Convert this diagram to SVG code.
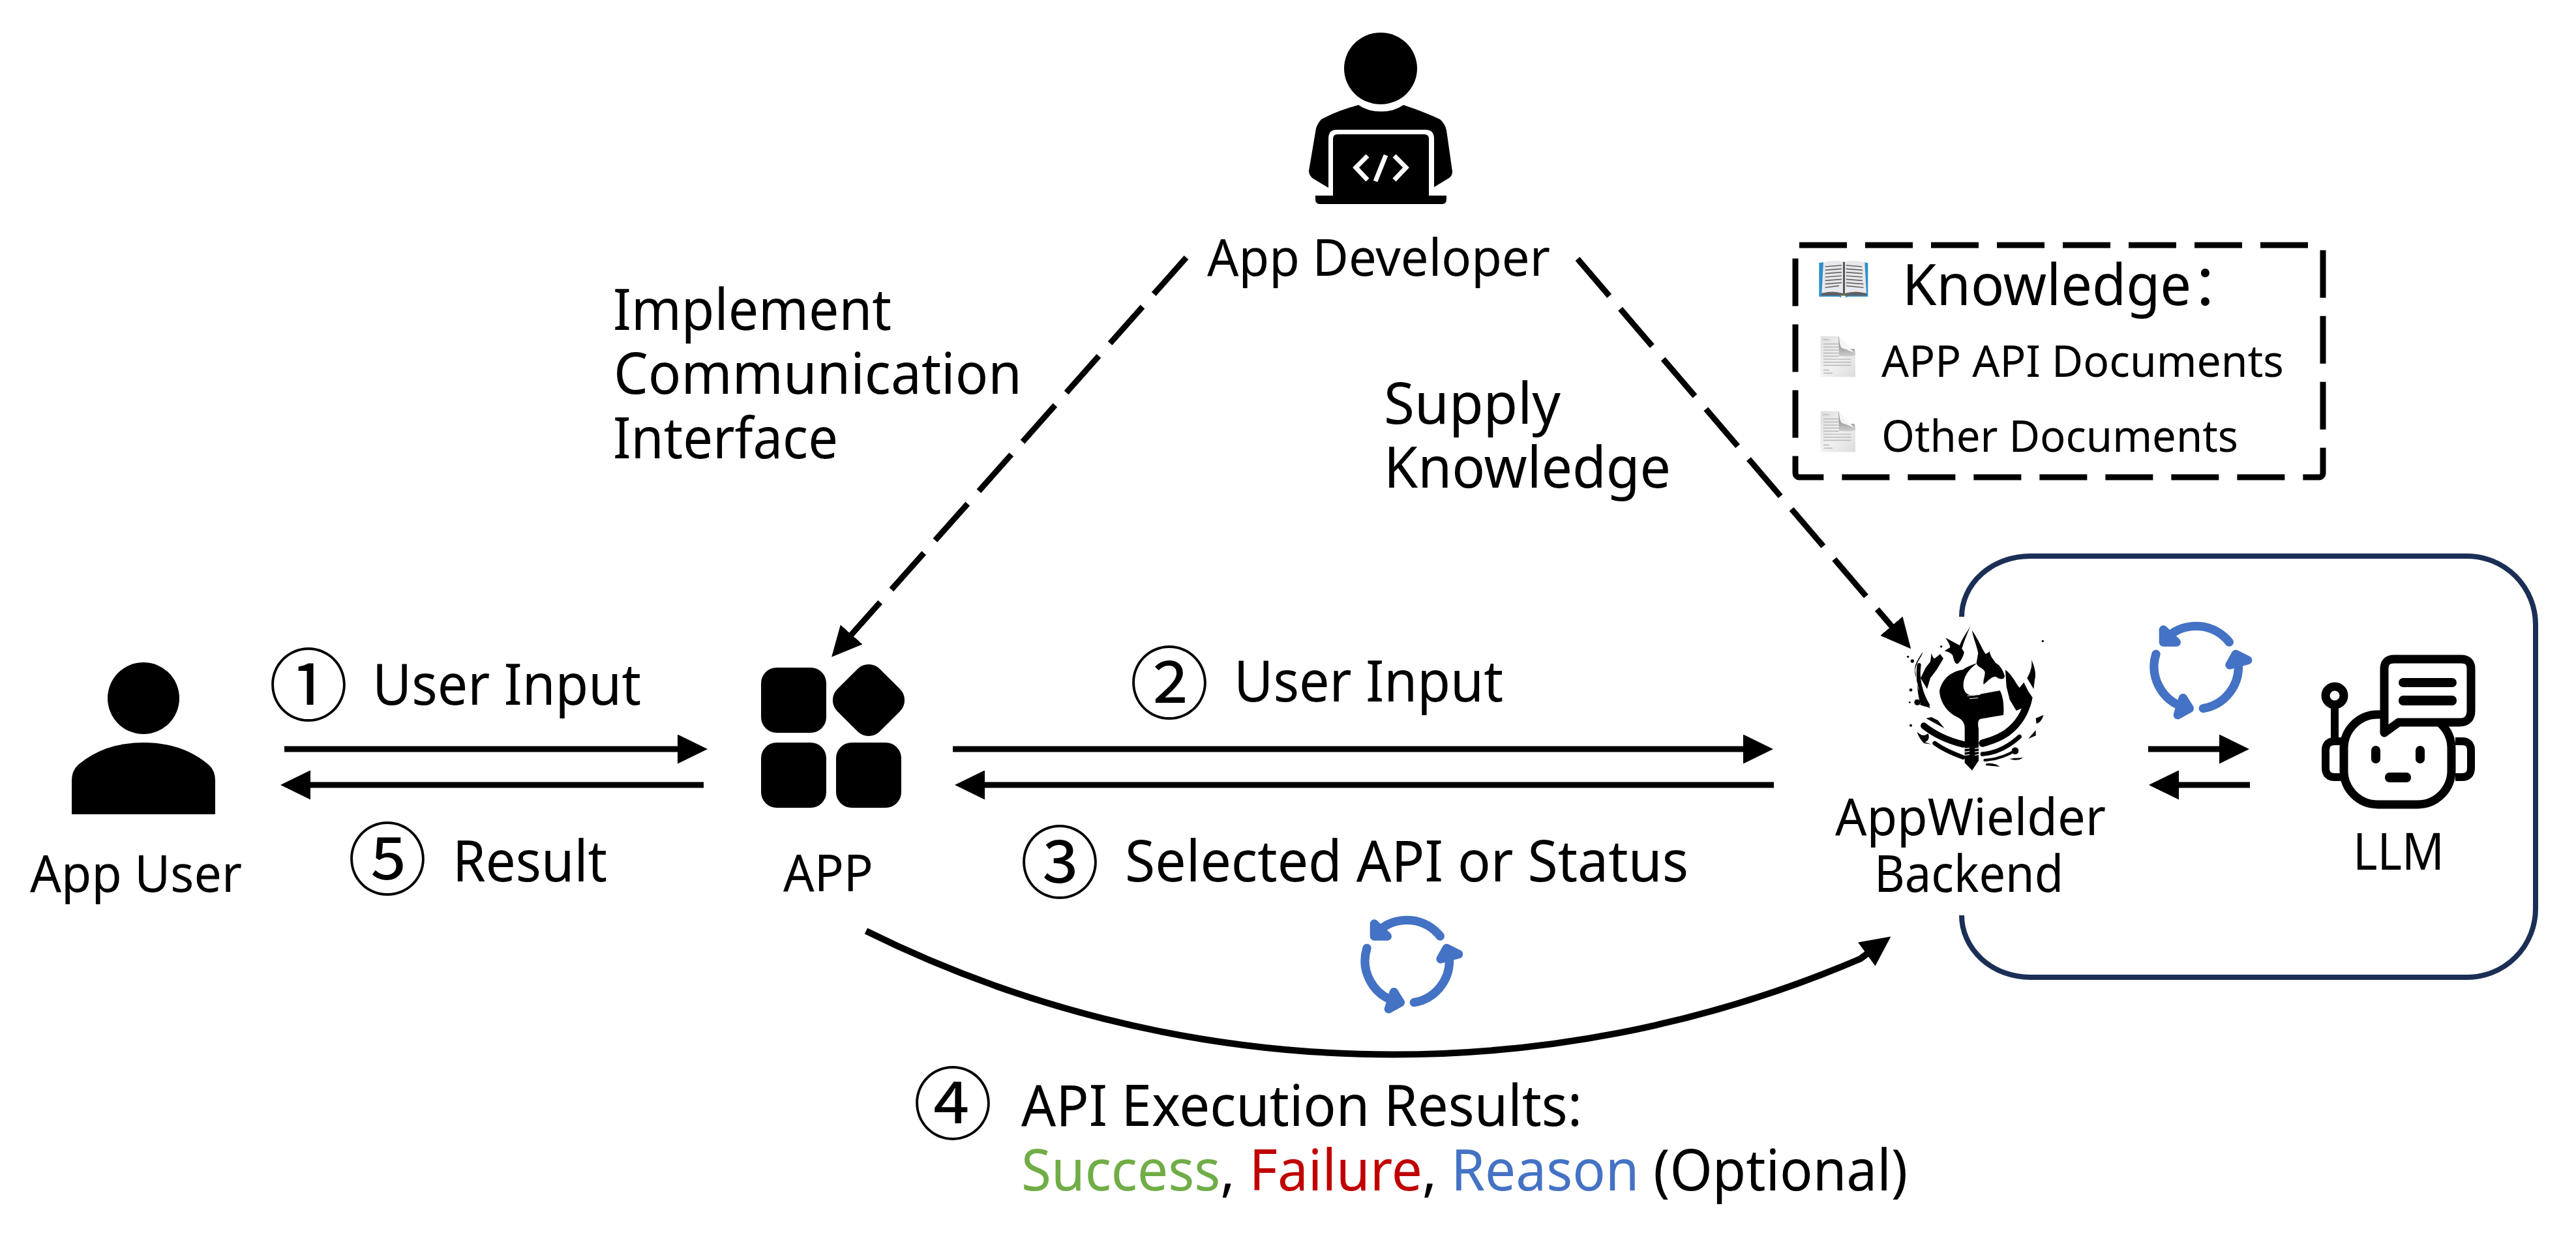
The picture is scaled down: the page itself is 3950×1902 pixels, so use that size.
<svg xmlns="http://www.w3.org/2000/svg" width="3950" height="1902" viewBox="0 0 3950 1902">
<style>
text{font-family:"Noto Sans","Noto Sans CJK SC",sans-serif;fill:#000}
.l{font-size:88px}
.n{font-size:79px}
.d{font-size:67px}
.c{font-family:"Noto Sans CJK SC","Noto Sans",sans-serif;font-size:122px;text-anchor:middle}
.ln{fill:none;stroke:#000;stroke-width:9}
.ds{stroke-dasharray:75 26}
.cy{fill:none;stroke:#4472C4;stroke-width:40;stroke-linecap:round}
.cyh{fill:#4472C4;stroke:#4472C4;stroke-width:40;stroke-linejoin:round}
.k{fill:#000}
.w{fill:none;stroke:#000;stroke-linecap:round}
</style>
<defs>
<marker id="ah" viewBox="0 0 46 45" refX="1" refY="22.5" markerWidth="46" markerHeight="45" markerUnits="userSpaceOnUse" orient="auto"><path d="M0,0L46,22.5L0,45Z"/></marker>
<g id="cycle" transform="translate(3280,940) scale(.3333)">
<path class="cy" d="M415,135A195,195 0 0 0 135,108"/>
<path class="cyh" d="M112,78L112,135L172,135Z"/>
<path class="cy" d="M295,440A195,195 0 0 0 457,235"/>
<path class="cyh" d="M417,240L445,190L500,218Z"/>
<path class="cy" d="M78,190A195,195 0 0 0 210,435"/>
<path class="cyh" d="M202,392L232,440L178,470Z"/>
</g>
<linearGradient id="docg" x1="0" y1="0" x2="1" y2="1"><stop offset="0" stop-color="#dedede"/><stop offset=".5" stop-color="#f2f2f2"/><stop offset="1" stop-color="#dcdcdc"/></linearGradient>
<linearGradient id="foldg" x1="0" y1="0" x2="0" y2="1"><stop offset="0" stop-color="#6a6a6a"/><stop offset="1" stop-color="#cfcfcf"/></linearGradient>
<g id="doc" transform="translate(2770,385) scale(.3333)">
<path d="M65,392H148L225,478V580H65Z" fill="url(#docg)"/>
<path d="M148,392C155,420 160,440 172,450H222L225,478C215,485 185,488 150,482L148,392Z" fill="url(#foldg)"/>
<path d="M150,392L222,472C195,455 170,450 160,445C152,430 150,410 150,392Z" fill="#f6f6f6"/>
<path d="M75,408H105M78,428H150M78,442H150M78,456H150M78,470H150M78,484H150M78,498H205M78,512H205M78,526H205M78,548H105M78,562H120" stroke="#bdbdbd" stroke-width="5" fill="none"/>
</g>
</defs>

<g id="connectors">
<path class="ln" marker-end="url(#ah)" d="M436,1149H1040"/>
<path class="ln" marker-end="url(#ah)" d="M1079,1204H475"/>
<path class="ln" marker-end="url(#ah)" d="M1461,1149H2674"/>
<path class="ln" marker-end="url(#ah)" d="M2720,1204H1509"/>
<path class="ln" marker-end="url(#ah)" d="M3294,1149H3404"/>
<path class="ln" marker-end="url(#ah)" d="M3450,1204H3340"/>
<path class="ln ds" marker-end="url(#ah)" d="M1819,395L1305,974"/>
<path class="ln ds" marker-end="url(#ah)" d="M2419,397L2901,961"/>
<path class="ln" style="stroke-width:10" marker-end="url(#ah)" d="M1328,1428A1820,1820 0 0 0 2852,1471L2863,1463"/>
</g>

<g id="backend-frame">
<path d="M3008,1404A105,95 0 0 0 3113,1499H3783A105,105 0 0 0 3888,1394V958A105,105 0 0 0 3783,853H3113A105,93 0 0 0 3008,946" fill="none" stroke="#1B2F56" stroke-width="8"/>
</g>

<g id="app-developer">
<ellipse class="k" cx="2117" cy="105" rx="56" ry="55"/>
<path class="k" d="M2083,161Q2097,171 2118,171Q2138,171 2152,161Q2185,172 2208,183Q2216,190 2218,200L2227,263Q2227,270 2222,273L2199,287V213Q2199,199 2186,199H2049Q2037,199 2037,213V288L2012,273Q2007,268 2007,262L2018,197Q2020,190 2026,183Q2050,170 2083,161Z"/>
<path class="k" d="M2044,213Q2044,206 2051,206H2184Q2191,206 2191,213V300H2218V306Q2218,313 2211,313H2024Q2017,313 2017,306V300H2044Z"/>
<path d="M2097,239L2079,257L2097,276M2125,238L2109,278M2138,239L2156,257L2138,276" fill="none" stroke="#fff" stroke-width="7"/>
<text class="n" x="1851" y="423" textLength="526" lengthAdjust="spacingAndGlyphs">App Developer</text>
</g>

<g id="knowledge">
<rect x="2753" y="376" width="809" height="356" rx="6" fill="none" stroke="#000" stroke-width="9" stroke-dasharray="73 28"/>
<g transform="translate(2770,385) scale(.3333)">
<path d="M58,55L78,52V195L160,198V215H180V198L262,195V52L283,55V210H190Q170,222 150,210H58Z" fill="#2E8FC9"/>
<path d="M165,206Q172,198 180,206" fill="none" stroke="#7A6A10" stroke-width="6"/>
<path d="M70,195L78,52Q130,38 170,50V195Q120,180 70,195Z" fill="#e8e8ec"/>
<path d="M175,50Q215,38 268,52L276,195Q225,180 175,195Z" fill="#e8e8ec"/>
<path d="M70,195Q120,180 168,195V205H68ZM177,195Q225,180 276,195L278,205H177Z" fill="#5f5f5f"/>
<path d="M168,50H177V200H168Z" fill="#555"/>
<path d="M86,72L162,66M86,88L162,82M86,104L162,98M86,120L162,114M86,136L162,130M86,152L162,146M86,168L150,160M182,66L255,72M182,82L258,88M182,98L258,104M182,114L258,120M182,130L258,136M182,146L262,152M182,160L262,168" stroke="#666" stroke-width="5" fill="none"/>
</g>
<text class="l" x="2917" y="468" textLength="528" lengthAdjust="spacingAndGlyphs">Knowledge：</text>
<use href="#doc"/>
<use href="#doc" y="115"/>
<text class="d" x="2885" y="578" textLength="617" lengthAdjust="spacingAndGlyphs">APP API Documents</text>
<text class="d" x="2885" y="693" textLength="547" lengthAdjust="spacingAndGlyphs">Other Documents</text>
</g>

<g id="app-user">
<circle class="k" cx="220" cy="1071" r="55"/>
<path class="k" d="M110,1249V1197Q110,1182 120,1173Q160,1139 220,1139Q280,1139 320,1173Q330,1182 330,1197V1249Z"/>
<text class="n" x="46" y="1368" textLength="325" lengthAdjust="spacingAndGlyphs">App User</text>
</g>

<g id="app">
<rect class="k" x="1167" y="1024" width="100" height="100" rx="24"/>
<rect class="k" x="1167" y="1139" width="100" height="100" rx="24"/>
<rect class="k" x="1282" y="1139" width="100" height="100" rx="24"/>
<rect class="k" x="1286" y="1028" width="92" height="92" rx="24" transform="rotate(45 1332 1074)"/>
<text class="n" x="1201" y="1367" textLength="138" lengthAdjust="spacingAndGlyphs">APP</text>
</g>

<g id="appwielder-backend">
<g transform="translate(2900,940) scale(.3333)" class="k">
<path d="M222,360C232,310 270,270 330,262C345,250 370,240 395,232C350,265 330,300 332,340C335,365 350,380 375,380L500,358C515,385 520,430 516,470L410,488C397,495 398,510 402,535V680L372,725L338,690V530C338,505 325,490 300,478C255,455 225,410 222,360Z"/>
<path d="M365,60C345,95 325,120 315,150L250,115C262,135 272,150 270,160L245,175C265,180 285,190 285,205C290,225 295,235 305,235C320,225 335,195 335,180L325,165C335,130 350,95 365,60Z"/>
<path d="M372,80C375,110 395,155 400,185L392,230C395,250 420,250 430,270C435,285 420,310 425,330C445,315 470,280 490,300C500,305 520,310 522,290C515,265 500,240 480,230C470,215 455,200 453,178L435,190C420,170 410,140 372,80Z"/>
<path d="M145,180C140,205 115,225 110,265C115,295 120,330 125,350C140,375 165,410 180,440L165,432C140,430 115,415 108,398L135,420C122,380 118,340 122,310C105,290 105,250 115,230C125,210 135,195 145,180Z"/>
<path d="M185,185C190,200 190,205 200,210L225,190L240,210L210,260L180,300L165,350L135,300L160,250L180,225Z"/>
<path d="M525,262C560,290 570,320 590,345L610,320L630,360L650,390L640,430L600,440L575,450L545,400L530,340Z"/>
<path d="M645,215C660,250 668,280 660,310L655,350L625,300C640,275 650,245 645,215Z"/>
<path class="w" style="stroke-width:34" d="M630,400C615,470 580,515 535,550C495,578 450,592 420,600"/>
<path class="w" style="stroke-width:18" d="M128,240C118,300 135,370 168,425"/>
<path class="w" style="stroke-width:30" d="M150,520C200,560 270,590 330,605"/>
<path class="w" style="stroke-width:20" d="M200,600C240,630 290,650 330,665"/>
<path class="w" style="stroke-width:20" d="M420,650C480,645 540,615 590,570"/>
<path class="w" style="stroke-width:12" d="M430,678C480,675 530,660 575,630"/>
<path d="M160,485L245,532L215,495L185,480Z"/>
<path d="M118,548C130,555 145,575 170,555C178,575 170,590 155,595L185,605L150,600C135,585 125,565 118,548Z"/>
<path d="M700,470L665,485L668,510C685,505 695,490 700,470Z"/>
<path d="M665,540L630,580L665,565Z"/>
<path d="M435,695C460,688 480,695 500,708L435,702Z"/>
<path d="M545,672C570,665 590,670 608,665C590,680 565,680 545,672Z"/>
<circle cx="77" cy="202" r="5"/><circle cx="97" cy="222" r="8"/><circle cx="90" cy="355" r="7"/><circle cx="90" cy="518" r="6"/><circle cx="697" cy="130" r="5"/><circle cx="85" cy="412" r="4"/><circle cx="120" cy="412" r="14"/><circle cx="230" cy="155" r="5"/><circle cx="570" cy="635" r="16"/>
<path d="M338,625L360,622M338,640L360,637M338,655L360,652M385,625L402,622M385,640L402,637M385,655L402,652" stroke="#fff" stroke-width="4" fill="none"/>
<path d="M350,382L410,376M360,395L400,392" stroke="#fff" stroke-width="3" fill="none"/>
</g>
<text class="n" x="2814" y="1281" textLength="415" lengthAdjust="spacingAndGlyphs">AppWielder</text>
<text class="n" x="2874" y="1368" textLength="290" lengthAdjust="spacingAndGlyphs">Backend</text>
</g>

<g id="llm">
<rect x="3594" y="1096" width="165" height="138" rx="52" fill="#fff" stroke="#000" stroke-width="13"/>
<path d="M3656,1124V1026Q3656,1011 3671,1011H3774Q3789,1011 3789,1026V1090Q3789,1108 3771,1108H3678Z" fill="#fff" stroke="#000" stroke-width="13" stroke-linejoin="round"/>
<rect class="k" x="3678" y="1040" width="89" height="14" rx="7"/>
<rect class="k" x="3678" y="1067" width="89" height="15" rx="7"/>
<rect class="k" x="3636" y="1144" width="14" height="27" rx="7"/>
<rect class="k" x="3704" y="1144" width="14" height="27" rx="7"/>
<rect class="k" x="3657" y="1185" width="40" height="15" rx="7"/>
<circle cx="3580" cy="1067" r="14" fill="#fff" stroke="#000" stroke-width="13"/>
<path d="M3580,1084V1134" stroke="#000" stroke-width="12" fill="none"/>
<path d="M3590,1137H3580Q3566,1137 3566,1151V1178Q3566,1192 3580,1192H3590" fill="none" stroke="#000" stroke-width="12"/>
<path d="M3765,1137H3775Q3789,1137 3789,1151V1178Q3789,1192 3775,1192H3765" fill="none" stroke="#000" stroke-width="12"/>
<text class="n" x="3608" y="1334" textLength="140" lengthAdjust="spacingAndGlyphs">LLM</text>
</g>

<g id="loops">
<use href="#cycle"/>
<use href="#cycle" x="-1210" y="451"/>
</g>

<g id="labels">
<text class="l" x="940" y="506" textLength="427" lengthAdjust="spacingAndGlyphs">Implement</text>
<text class="l" x="941" y="604" textLength="626" lengthAdjust="spacingAndGlyphs">Communication</text>
<text class="l" x="940" y="703" textLength="345" lengthAdjust="spacingAndGlyphs">Interface</text>
<text class="l" x="2122" y="650" textLength="271" lengthAdjust="spacingAndGlyphs">Supply</text>
<text class="l" x="2122" y="748" textLength="440" lengthAdjust="spacingAndGlyphs">Knowledge</text>
<text class="c" x="473" y="1096">①</text>
<text class="l" x="571" y="1081" textLength="412" lengthAdjust="spacingAndGlyphs">User Input</text>
<text class="c" x="594" y="1363">⑤</text>
<text class="l" x="694" y="1352" textLength="237" lengthAdjust="spacingAndGlyphs">Result</text>
<text class="c" x="1793" y="1093">②</text>
<text class="l" x="1892" y="1076" textLength="413" lengthAdjust="spacingAndGlyphs">User Input</text>
<text class="c" x="1625" y="1368">③</text>
<text class="l" x="1725" y="1352" textLength="864" lengthAdjust="spacingAndGlyphs">Selected API or Status</text>
<text class="c" x="1461" y="1738">④</text>
<text class="l" x="1566" y="1727" textLength="860" lengthAdjust="spacingAndGlyphs">API Execution Results:</text>
<text class="l" x="1566" y="1826" textLength="1359" lengthAdjust="spacingAndGlyphs"><tspan style="fill:#70AD47">Success</tspan>, <tspan style="fill:#C00000">Failure</tspan>, <tspan style="fill:#4472C4">Reason</tspan> (Optional)</text>
</g>
</svg>
